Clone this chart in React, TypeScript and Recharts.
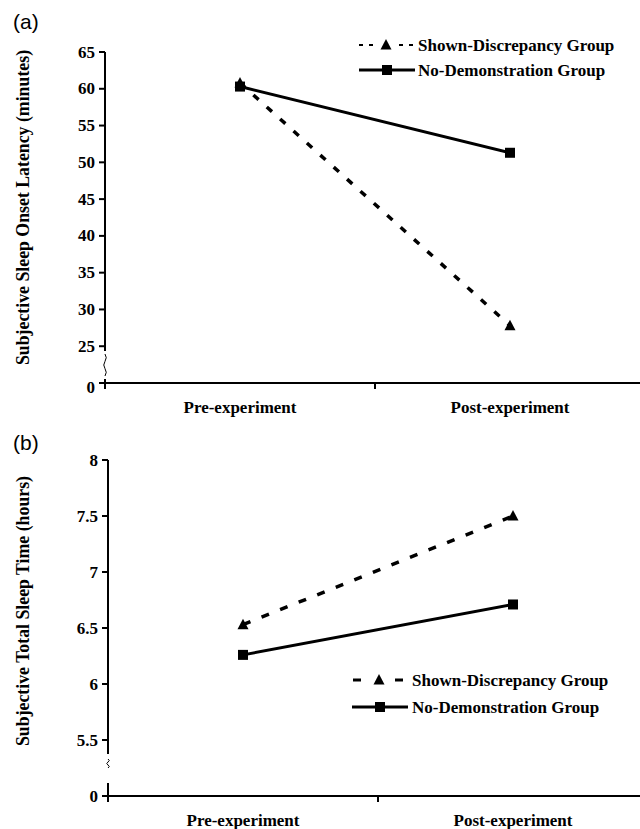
import React from 'react';
import { LineChart, Line, XAxis, YAxis, Legend, Label } from 'recharts';

const phases = ['Pre-experiment', 'Post-experiment'];
const seriesNames = ['Shown-Discrepancy Group', 'No-Demonstration Group'];
const latencyShown = [60.8, 27.8];
const latencyNoDemo = [60.3, 51.3];
const sleepShown = [6.53, 7.5];
const sleepNoDemo = [6.26, 6.71];
const latencyTicks = [20, 25, 30, 35, 40, 45, 50, 55, 60, 65];
const sleepTicks = [5, 5.5, 6, 6.5, 7, 7.5, 8];
const xTicks = [0, 0.5, 1, 1.5, 2];
const latencyTitle = 'Subjective Sleep Onset Latency (minutes)';
const sleepTitle = 'Subjective Total Sleep Time (hours)';

const latencyData = phases.map((p, i) => ({ x: i + 0.5, phase: p, shown: latencyShown[i], noDemo: latencyNoDemo[i] }));
const sleepData = phases.map((p, i) => ({ x: i + 0.5, phase: p, shown: sleepShown[i], noDemo: sleepNoDemo[i] }));

const SERIF = '"Liberation Serif", "Times New Roman", serif';
const SANS = '"Liberation Sans", Arial, sans-serif';

const Triangle = (props: any) => {
  const { cx, cy } = props;
  if (cx == null || cy == null) return null;
  return <path d={`M${cx},${cy - 6} L${cx + 5.5},${cy + 4.5} L${cx - 5.5},${cy + 4.5} Z`} fill="#000" />;
};
const Square = (props: any) => {
  const { cx, cy } = props;
  if (cx == null || cy == null) return null;
  return <rect x={cx - 5} y={cy - 5} width={10} height={10} fill="#000" />;
};

const makeXTick = () => (props: any) => {
  const { x, y, payload } = props;
  const v = payload.value;
  if (Number.isInteger(v)) {
    return <line x1={x} x2={x} y1={y} y2={y + 6} stroke="#000" strokeWidth={2} />;
  }
  return (
    <text x={x} y={y + 24} textAnchor="middle" dominantBaseline="central" fontFamily={SERIF} fontWeight="bold" fontSize={17} fill="#000">
      {phases[Math.floor(v)]}
    </text>
  );
};

const makeYTick = (minVal: number, gapTop: number, gapBottom: number, sqTop: number, sq: number, zeroDy: number) => (props: any) => {
  const { x, y, payload } = props;
  const v = payload.value;
  const isMin = v === minVal;
  const label = isMin ? '0' : String(v);
  return (
    <g>
      <line x1={x - 6} x2={x} y1={y} y2={y} stroke="#000" strokeWidth={2} />
      <text x={x - 10} y={y + (isMin ? zeroDy : 0)} textAnchor="end" dominantBaseline="central" fontFamily={SERIF} fontWeight="bold" fontSize={17} fill="#000">
        {label}
      </text>
      {isMin && (
        <g>
          <rect x={x - 4} y={y - gapTop} width={8} height={gapTop - gapBottom} fill="#fff" />
          <path
            d={`M${x},${y - sqTop} q2.5,${sq / 6} 0,${sq / 3} q-2.5,${sq / 6} 0,${sq / 3} q2.5,${sq / 6} 0,${sq / 3}`}
            fill="none"
            stroke="#000"
            strokeWidth={1}
          />
        </g>
      )}
    </g>
  );
};

const YTitle = (text: string, dy: number) => (props: any) => {
  const vb = props.viewBox || {};
  const cy = (vb.y || 0) + (vb.height || 0) / 2 + dy;
  const cx = 23;
  return (
    <text x={cx} y={cy} transform={`rotate(-90 ${cx} ${cy})`} textAnchor="middle" dominantBaseline="central" fontFamily={SERIF} fontWeight="bold" fontSize={17.8} fill="#000">
      {text}
    </text>
  );
};

const LegendSvg = ({ rowGap, thick }: { rowGap: number; thick: boolean }) => {
  const y1 = 12;
  const y2 = 12 + rowGap;
  return (
    <svg width={290} height={y2 + 14} style={{ display: 'block' }}>
      {thick ? (
        <g>
          <line x1={1} x2={9} y1={y1} y2={y1} stroke="#000" strokeWidth={3} />
          <line x1={43} x2={51} y1={y1} y2={y1} stroke="#000" strokeWidth={3} />
          <Triangle cx={27} cy={y1} />
        </g>
      ) : (
        <g>
          <line x1={0} x2={56} y1={y1} y2={y1} stroke="#000" strokeWidth={2} strokeDasharray="4 6" />
          <rect x={17} y={y1 - 3} width={20} height={6} fill="#fff" />
          <Triangle cx={27} cy={y1} />
        </g>
      )}
      <line x1={0} x2={thick ? 56 : 56} y1={y2} y2={y2} stroke="#000" strokeWidth={3} />
      <Square cx={thick ? 28 : 28} cy={y2} />
      <text x={thick ? 60 : 59} y={y1} dominantBaseline="central" fontFamily={SERIF} fontWeight="bold" fontSize={17} fill="#000">
        {seriesNames[0]}
      </text>
      <text x={thick ? 60 : 59} y={y2} dominantBaseline="central" fontFamily={SERIF} fontWeight="bold" fontSize={17} fill="#000">
        {seriesNames[1]}
      </text>
    </svg>
  );
};

export default function App() {
  return (
    <div style={{ position: 'absolute', left: 0, top: 0, width: 640, height: 829, overflow: 'hidden', background: '#fff' }}>
      <div style={{ position: 'absolute', left: 13, top: 10, fontFamily: SANS, fontSize: 21, color: '#000' }}>(a)</div>
      <div style={{ position: 'absolute', left: 13, top: 431, fontFamily: SANS, fontSize: 21, color: '#000' }}>(b)</div>

      <div style={{ position: 'absolute', left: 0, top: 0 }}>
        <LineChart width={645} height={430} data={latencyData} margin={{ top: 52, right: 0, bottom: 7, left: 0 }}>
          <XAxis
            dataKey="x"
            type="number"
            domain={[0, 2]}
            ticks={xTicks}
            interval={0}
            height={40}
            tickSize={0}
            tickMargin={0}
            tickLine={false}
            axisLine={{ stroke: '#000', strokeWidth: 2 }}
            tick={makeXTick()}
          />
          <YAxis
            type="number"
            domain={[20, 65]}
            ticks={latencyTicks}
            interval={0}
            width={105}
            tickSize={0}
            tickMargin={0}
            tickLine={false}
            axisLine={{ stroke: '#000', strokeWidth: 2 }}
            tick={makeYTick(20, 32, 4, 29, 22, 4)}
          >
            <Label content={YTitle(latencyTitle, -10)} />
          </YAxis>
          <Legend
            layout="vertical"
            align="center"
            verticalAlign="middle"
            wrapperStyle={{ position: 'absolute', top: 33, left: 359, width: 290 }}
            content={() => <LegendSvg rowGap={25} thick={false} />}
          />
          <Line
            name={seriesNames[0]}
            dataKey="shown"
            stroke="#000"
            strokeWidth={3.5}
            strokeDasharray="7 11"
            dot={<Triangle />}
            isAnimationActive={false}
          />
          <Line
            name={seriesNames[1]}
            dataKey="noDemo"
            stroke="#000"
            strokeWidth={3}
            dot={<Square />}
            isAnimationActive={false}
          />
        </LineChart>
      </div>

      <div style={{ position: 'absolute', left: 0, top: 420 }}>
        <LineChart width={648} height={409} data={sleepData} margin={{ top: 40, right: 0, bottom: 3, left: 0 }}>
          <XAxis
            dataKey="x"
            type="number"
            domain={[0, 2]}
            ticks={xTicks}
            interval={0}
            height={30}
            tickSize={0}
            tickMargin={0}
            tickLine={false}
            axisLine={{ stroke: '#000', strokeWidth: 2 }}
            tick={makeXTick()}
          />
          <YAxis
            type="number"
            domain={[5, 8]}
            ticks={sleepTicks}
            interval={0}
            width={108}
            tickSize={0}
            tickMargin={0}
            tickLine={false}
            axisLine={{ stroke: '#000', strokeWidth: 2 }}
            tick={makeYTick(5, 42, 13, 37, 9, 0)}
          >
            <Label content={YTitle(sleepTitle, -17)} />
          </YAxis>
          <Legend
            layout="vertical"
            align="center"
            verticalAlign="middle"
            wrapperStyle={{ position: 'absolute', top: 248, left: 352, width: 290 }}
            content={() => <LegendSvg rowGap={27} thick={true} />}
          />
          <Line
            name={seriesNames[0]}
            dataKey="shown"
            stroke="#000"
            strokeWidth={3.5}
            strokeDasharray="8 12"
            dot={<Triangle />}
            isAnimationActive={false}
          />
          <Line
            name={seriesNames[1]}
            dataKey="noDemo"
            stroke="#000"
            strokeWidth={3}
            dot={<Square />}
            isAnimationActive={false}
          />
        </LineChart>
      </div>
    </div>
  );
}
